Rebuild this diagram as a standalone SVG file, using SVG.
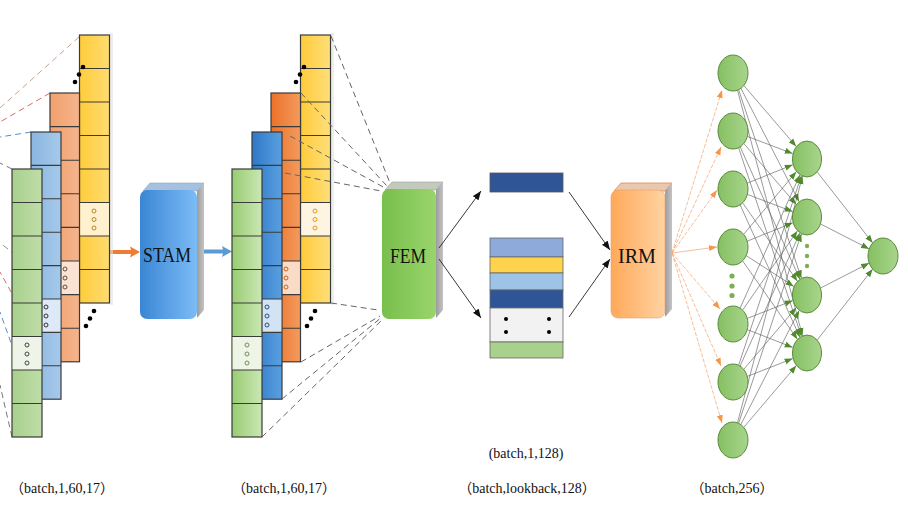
<svg xmlns="http://www.w3.org/2000/svg" width="908" height="510" viewBox="0 0 908 510">
<style>
text{font-family:"Liberation Serif","Noto Sans CJK SC",serif;fill:#111}
.lbl{font-size:14px;text-anchor:middle}
.box{font-size:20px;text-anchor:middle}
.col{stroke:#3a3a3a;stroke-width:1.2}
.sep{stroke:#3a3a3a;stroke-width:1.1;fill:none}
.sh{fill:#e2e2e2;opacity:0.6}
.dd{fill:#000}
.ring{fill:none;stroke-width:1}
.dl{fill:none;stroke-width:1;stroke-dasharray:6 4}
.nn{stroke:#555;stroke-width:0.6;fill:none;marker-end:url(#ag)}
.no{stroke:#f5a06a;stroke-width:0.7;fill:none;stroke-dasharray:4 1.5;marker-end:url(#ao)}
.nd{fill:#7fae55}
.node{fill:url(#gN);stroke:#5b8a3c;stroke-width:1}
</style>
<defs>
<linearGradient id="gYl" x1="0" x2="1"><stop offset="0" stop-color="#ffcd3c"/><stop offset="1" stop-color="#ffdc70"/></linearGradient>
<linearGradient id="gOl" x1="0" x2="1"><stop offset="0" stop-color="#f2a06e"/><stop offset="1" stop-color="#f5b48c"/></linearGradient>
<linearGradient id="gBl" x1="0" x2="1"><stop offset="0" stop-color="#8ab6e0"/><stop offset="1" stop-color="#a6c9ea"/></linearGradient>
<linearGradient id="gGl" x1="0" x2="1"><stop offset="0" stop-color="#a8d08c"/><stop offset="1" stop-color="#c0dda9"/></linearGradient>
<linearGradient id="gYm" x1="0" x2="1"><stop offset="0" stop-color="#ffcb3a"/><stop offset="1" stop-color="#ffdf7a"/></linearGradient>
<linearGradient id="gOm" x1="0" x2="1"><stop offset="0" stop-color="#ec7128"/><stop offset="1" stop-color="#f39b5e"/></linearGradient>
<linearGradient id="gBm" x1="0" x2="1"><stop offset="0" stop-color="#2f78c8"/><stop offset="1" stop-color="#5aa0e0"/></linearGradient>
<linearGradient id="gGm" x1="0" x2="1"><stop offset="0" stop-color="#98cc72"/><stop offset="1" stop-color="#cbe7b4"/></linearGradient>
<linearGradient id="gStam" x1="0" x2="1"><stop offset="0" stop-color="#3a86d4"/><stop offset="1" stop-color="#7cbcf6"/></linearGradient>
<linearGradient id="gFem" x1="0" x2="1"><stop offset="0" stop-color="#78bf4c"/><stop offset="1" stop-color="#9ad46c"/></linearGradient>
<linearGradient id="gIrm" x1="0" x2="1"><stop offset="0" stop-color="#ffa95a"/><stop offset="1" stop-color="#ffd3a2"/></linearGradient>
<linearGradient id="gSide" x1="0" x2="1"><stop offset="0" stop-color="#9c9c9c"/><stop offset="1" stop-color="#c4c4c4"/></linearGradient>
<linearGradient id="gN" x1="0" x2="1"><stop offset="0" stop-color="#86c062"/><stop offset="1" stop-color="#a8d58c"/></linearGradient>
<marker id="ag" markerUnits="userSpaceOnUse" markerWidth="9" markerHeight="7" refX="8" refY="3.5" orient="auto" viewBox="0 0 9 7"><path d="M0,0.5 L8,3.5 L0,6.5 z" fill="#4f8a2c"/></marker>
<marker id="ao" markerUnits="userSpaceOnUse" markerWidth="9" markerHeight="7" refX="8" refY="3.5" orient="auto" viewBox="0 0 9 7"><path d="M0,0.5 L8,3.5 L0,6.5 z" fill="#f79646"/></marker>
<marker id="ak" markerUnits="userSpaceOnUse" markerWidth="10" markerHeight="8" refX="9" refY="4" orient="auto" viewBox="0 0 10 8"><path d="M0,0.5 L9,4 L0,7.5 z" fill="#111"/></marker>
</defs>

<rect width="908" height="510" fill="#ffffff"/>

<!-- connectors -->
<g id="connectors">
  <line class="dl" x1="79" y1="37" x2="0" y2="108" stroke="#c9a08c"/>
  <line class="dl" x1="50" y1="93" x2="0" y2="122" stroke="#dc6a66"/>
  <line class="dl" x1="31" y1="132" x2="0" y2="137" stroke="#5b8ccc"/>
  <line class="dl" x1="12" y1="169" x2="0" y2="163" stroke="#777"/>
  <line class="dl" x1="80" y1="303" x2="0" y2="243" stroke="#a08a80"/>
  <line class="dl" x1="50" y1="362" x2="0" y2="272" stroke="#dc6a66"/>
  <line class="dl" x1="31" y1="399" x2="0" y2="312" stroke="#5b8ccc"/>
  <line class="dl" x1="12" y1="437" x2="0" y2="385" stroke="#777"/>
  <path d="M110,250 L131,250 L130,246.5 L140,252 L130,257.5 L131,254 L110,254 z" fill="#ed7d31"/>
  <path d="M202,249.5 L223,249.5 L222,246 L232,251.5 L222,257 L223,253.5 L202,253.5 z" fill="#5b9bd5"/>
</g>

<!-- left stack -->
<g id="stack-left">
  <rect class="sh" x="110" y="33" width="3" height="272"/>
  <rect class="col" x="79.5" y="35" width="30" height="268" fill="url(#gYl)"/>
  <rect x="80.1" y="202.5" width="28.8" height="33.5" fill="#fff1cf"/>
  <path class="sep" d="M79.5 68.5h30M79.5 102h30M79.5 135.5h30M79.5 169h30M79.5 202.5h30M79.5 236h30M79.5 269.5h30"/>
  <rect class="col" x="50" y="93" width="29.5" height="268.8" fill="url(#gOl)"/>
  <rect x="50.6" y="261" width="28.3" height="33.6" fill="#fbe3d3"/>
  <path class="sep" d="M50 126.6h29.5M50 160.2h29.5M50 193.8h29.5M50 227.4h29.5M50 261h29.5M50 294.6h29.5M50 328.2h29.5"/>
  <rect class="col" x="31" y="132" width="30" height="267.2" fill="url(#gBl)"/>
  <rect x="31.6" y="299" width="28.8" height="33.4" fill="#dde9f6"/>
  <path class="sep" d="M31 165.4h30M31 198.8h30M31 232.2h30M31 265.6h30M31 299h30M31 332.4h30M31 365.8h30"/>
  <rect class="col" x="12" y="169" width="30" height="268" fill="url(#gGl)"/>
  <rect x="12.6" y="336.5" width="28.8" height="33.5" fill="#eef5e8"/>
  <path class="sep" d="M12 202.5h30M12 236h30M12 269.5h30M12 303h30M12 336.5h30M12 370h30M12 403.5h30"/>
  <g class="ring" stroke="#b88a20"><circle cx="94" cy="211" r="2"/><circle cx="94" cy="219.5" r="2"/><circle cx="94" cy="228" r="2"/></g>
  <g class="ring" stroke="#6a4a38"><circle cx="65" cy="269" r="2"/><circle cx="65" cy="278" r="2"/><circle cx="65" cy="287" r="2"/></g>
  <g class="ring" stroke="#333"><circle cx="46" cy="307" r="2"/><circle cx="46" cy="316" r="2"/><circle cx="46" cy="325" r="2"/></g>
  <g class="ring" stroke="#444"><circle cx="27" cy="345" r="2"/><circle cx="27" cy="354" r="2"/><circle cx="27" cy="363" r="2"/></g>
  <g class="dd"><circle cx="83" cy="67" r="2.3"/><circle cx="79" cy="74.5" r="2.3"/><circle cx="75" cy="82" r="2.3"/>
  <circle cx="94" cy="311" r="2.3"/><circle cx="90" cy="318.5" r="2.3"/><circle cx="86" cy="326" r="2.3"/></g>
</g>

<!-- STAM -->
<g id="stam">
  <polygon points="143,191 150,183 204,183 197,191" fill="#a6c0e0" stroke="#8aa6c8" stroke-width="0.6"/>
  <polygon points="197,191 204,183 204,310 197,318" fill="url(#gSide)"/>
  <rect x="140" y="190" width="57" height="129" rx="7" fill="url(#gStam)"/>
  <text class="box" x="167" y="262" textLength="48" lengthAdjust="spacingAndGlyphs">STAM</text>
</g>

<!-- middle stack -->
<g id="stack-mid" transform="translate(221,0)">
  <rect class="sh" x="110" y="33" width="3" height="272"/>
  <rect class="col" x="79.5" y="35" width="30" height="268" fill="url(#gYm)"/>
  <rect x="80.1" y="202.5" width="28.8" height="33.5" fill="#fdf5e2"/>
  <path class="sep" d="M79.5 68.5h30M79.5 102h30M79.5 135.5h30M79.5 169h30M79.5 202.5h30M79.5 236h30M79.5 269.5h30"/>
  <rect class="col" x="50" y="93" width="29.5" height="268.8" fill="url(#gOm)"/>
  <rect x="50.6" y="261" width="28.3" height="33.6" fill="#f9dcc8"/>
  <path class="sep" d="M50 126.6h29.5M50 160.2h29.5M50 193.8h29.5M50 227.4h29.5M50 261h29.5M50 294.6h29.5M50 328.2h29.5"/>
  <rect class="col" x="31" y="132" width="30" height="267.2" fill="url(#gBm)"/>
  <rect x="31.6" y="299" width="28.8" height="33.4" fill="#d2e3f4"/>
  <path class="sep" d="M31 165.4h30M31 198.8h30M31 232.2h30M31 265.6h30M31 299h30M31 332.4h30M31 365.8h30"/>
  <rect class="col" x="11" y="169" width="30" height="268" fill="url(#gGm)"/>
  <rect x="11.6" y="336.5" width="28.8" height="33.5" fill="#eef4e6"/>
  <path class="sep" d="M11 202.5h30M11 236h30M11 269.5h30M11 303h30M11 336.5h30M11 370h30M11 403.5h30"/>
  <g class="ring" stroke="#e89a18"><circle cx="94" cy="211" r="2"/><circle cx="94" cy="219.5" r="2"/><circle cx="94" cy="228" r="2"/></g>
  <g class="ring" stroke="#d2601e"><circle cx="65" cy="269" r="2"/><circle cx="65" cy="278" r="2"/><circle cx="65" cy="287" r="2"/></g>
  <g class="ring" stroke="#2f4f80"><circle cx="46" cy="307" r="2"/><circle cx="46" cy="316" r="2"/><circle cx="46" cy="325" r="2"/></g>
  <g class="ring" stroke="#7a8a60"><circle cx="26" cy="345" r="2"/><circle cx="26" cy="354" r="2"/><circle cx="26" cy="363" r="2"/></g>
  <g class="dd"><circle cx="83" cy="67" r="2.3"/><circle cx="79" cy="74.5" r="2.3"/><circle cx="75" cy="82" r="2.3"/>
  <circle cx="94" cy="311" r="2.3"/><circle cx="90" cy="318.5" r="2.3"/><circle cx="86" cy="326" r="2.3"/></g>
</g>

<!-- dashed lines stack -> FEM -->
<g id="connectors-fem" stroke="#666">
  <line class="dl" x1="331" y1="36" x2="390" y2="183"/>
  <line class="dl" x1="301" y1="93" x2="387" y2="186"/>
  <line class="dl" x1="290" y1="136" x2="385" y2="188"/>
  <line class="dl" x1="285" y1="173" x2="381" y2="191"/>
  <line class="dl" x1="331" y1="303" x2="378" y2="310"/>
  <line class="dl" x1="301" y1="362" x2="380" y2="316"/>
  <line class="dl" x1="282" y1="399" x2="382" y2="317"/>
  <line class="dl" x1="262" y1="437" x2="383" y2="319"/>
</g>

<!-- FEM -->
<g id="fem">
  <polygon points="385,190 392,182 443,182 436,190" fill="#c3c9bd" stroke="#9aa394" stroke-width="0.6"/>
  <polygon points="436,190 443,182 443,310 436,318" fill="url(#gSide)"/>
  <rect x="382" y="189" width="54" height="130" rx="7" fill="url(#gFem)"/>
  <text class="box" x="408" y="263" textLength="36" lengthAdjust="spacingAndGlyphs">FEM</text>
</g>

<!-- FEM / IRM arrows -->
<g id="connectors-mid" stroke="#222" stroke-width="0.9" fill="none">
  <line x1="439" y1="248" x2="481" y2="191" marker-end="url(#ak)"/>
  <line x1="439" y1="259" x2="481" y2="318" marker-end="url(#ak)"/>
  <line x1="569" y1="192" x2="610" y2="250" marker-end="url(#ak)"/>
  <line x1="569" y1="317" x2="610" y2="259" marker-end="url(#ak)"/>
</g>

<!-- vector (batch,1,128) -->
<g id="vec">
  <rect x="490" y="173" width="73" height="19" fill="#2f5597" stroke="#555" stroke-width="0.8"/>
</g>

<!-- sequence (batch,lookback,128) -->
<g id="seq" stroke="#666" stroke-width="0.8">
  <rect x="490" y="238" width="73" height="19" fill="#8eaadb"/>
  <rect x="490" y="257" width="73" height="16" fill="#ffd34e"/>
  <rect x="490" y="273" width="73" height="17" fill="#9dc3e6"/>
  <rect x="490" y="290" width="73" height="18" fill="#2f5597"/>
  <rect x="490" y="308" width="73" height="34" fill="#f2f2f2"/>
  <rect x="490" y="342" width="73" height="16" fill="#a9d18e"/>
  <g fill="#000" stroke="none"><circle cx="506" cy="319" r="2"/><circle cx="549" cy="319" r="2"/><circle cx="506" cy="332" r="2"/><circle cx="549" cy="332" r="2"/></g>
</g>

<!-- IRM -->
<g id="irm">
  <polygon points="614,191 621,183 672,183 665,191" fill="#e8c8ae" stroke="#e08a50" stroke-width="0.8"/>
  <polygon points="665,191 672,183 672,309 665,317" fill="url(#gSide)"/>
  <rect x="611" y="190" width="54" height="128" rx="7" fill="url(#gIrm)" stroke="#e8a070" stroke-width="0.6"/>
  <text class="box" x="637" y="263" textLength="38" lengthAdjust="spacingAndGlyphs">IRM</text>
</g>

<!-- network connectors -->
<g id="connectors-net">
  <line class="no" x1="672" y1="253" x2="722" y2="90"/>
  <line class="no" x1="672" y1="253" x2="721" y2="147"/>
  <line class="no" x1="672" y1="253" x2="717" y2="190"/>
  <line class="no" x1="672" y1="253" x2="717" y2="247" style="stroke-dasharray:none"/>
  <line class="no" x1="672" y1="253" x2="720" y2="309"/>
  <line class="no" x1="672" y1="253" x2="721" y2="366"/>
  <line class="no" x1="672" y1="253" x2="722" y2="423"/>

  <line class="nn" x1="743.8" y1="85.5" x2="796.2" y2="146.5"/>
  <line class="nn" x1="740.9" y1="88.3" x2="799.1" y2="201.7"/>
  <line class="nn" x1="738.6" y1="89.7" x2="801.4" y2="278.3"/>
  <line class="nn" x1="737.5" y1="90.2" x2="802.5" y2="335.8"/>
  <line class="nn" x1="747.3" y1="136.4" x2="792.7" y2="153.6"/>
  <line class="nn" x1="743.8" y1="143.5" x2="796.2" y2="204.5"/>
  <line class="nn" x1="740.1" y1="146.8" x2="799.9" y2="279.2"/>
  <line class="nn" x1="738.6" y1="147.7" x2="801.4" y2="336.3"/>
  <line class="nn" x1="747.2" y1="183.2" x2="792.8" y2="164.8"/>
  <line class="nn" x1="747.3" y1="194.4" x2="792.7" y2="211.6"/>
  <line class="nn" x1="742.6" y1="202.8" x2="797.4" y2="281.2"/>
  <line class="nn" x1="740.1" y1="204.8" x2="799.9" y2="337.2"/>
  <line class="nn" x1="743.7" y1="234.3" x2="796.3" y2="171.7"/>
  <line class="nn" x1="747.2" y1="241.2" x2="792.8" y2="222.8"/>
  <line class="nn" x1="746.2" y1="255.6" x2="793.8" y2="286.4"/>
  <line class="nn" x1="742.6" y1="260.8" x2="797.4" y2="339.2"/>
  <line class="nn" x1="740.1" y1="308.1" x2="799.9" y2="174.9"/>
  <line class="nn" x1="742.6" y1="310.1" x2="797.4" y2="230.9"/>
  <line class="nn" x1="747.3" y1="318.4" x2="792.7" y2="300.6"/>
  <line class="nn" x1="747.3" y1="329.6" x2="792.7" y2="347.4"/>
  <line class="nn" x1="738.6" y1="365.3" x2="801.4" y2="175.7"/>
  <line class="nn" x1="740.1" y1="366.1" x2="799.9" y2="232.9"/>
  <line class="nn" x1="743.7" y1="369.4" x2="796.3" y2="307.6"/>
  <line class="nn" x1="747.3" y1="376.4" x2="792.7" y2="358.6"/>
  <line class="nn" x1="737.5" y1="422.8" x2="802.5" y2="176.2"/>
  <line class="nn" x1="738.6" y1="423.3" x2="801.4" y2="233.7"/>
  <line class="nn" x1="740.8" y1="424.6" x2="799.2" y2="310.4"/>
  <line class="nn" x1="743.7" y1="427.4" x2="796.3" y2="365.6"/>

  <line class="nn" x1="817.3" y1="172.1" x2="872.7" y2="242.9"/>
  <line class="nn" x1="820.8" y1="224.1" x2="869.2" y2="248.9"/>
  <line class="nn" x1="820.8" y1="287.9" x2="869.2" y2="263.1"/>
  <line class="nn" x1="817.3" y1="339.9" x2="872.7" y2="269.1"/>
</g>

<!-- network nodes -->
<g id="layer-in">
  <ellipse class="node" cx="733" cy="73" rx="15" ry="18"/>
  <ellipse class="node" cx="733" cy="131" rx="15" ry="18"/>
  <ellipse class="node" cx="733" cy="189" rx="15" ry="18"/>
  <ellipse class="node" cx="733" cy="247" rx="15" ry="18"/>
  <ellipse class="node" cx="733" cy="324" rx="15" ry="18"/>
  <ellipse class="node" cx="733" cy="382" rx="15" ry="18"/>
  <ellipse class="node" cx="733" cy="440" rx="15" ry="18"/>
  <circle class="nd" cx="732" cy="276" r="2.6"/><circle class="nd" cx="732" cy="286" r="2.6"/><circle class="nd" cx="732" cy="295.5" r="2.6"/>
</g>
<g id="layer-hidden">
  <ellipse class="node" cx="807" cy="159" rx="14.5" ry="18"/>
  <ellipse class="node" cx="807" cy="217" rx="14.5" ry="18"/>
  <ellipse class="node" cx="807" cy="295" rx="14.5" ry="18"/>
  <ellipse class="node" cx="807" cy="353" rx="14.5" ry="18"/>
  <circle class="nd" cx="807" cy="246" r="2.2"/><circle class="nd" cx="807" cy="256" r="2.2"/><circle class="nd" cx="807" cy="266" r="2.2"/>
</g>
<g id="layer-out">
  <ellipse class="node" cx="883" cy="256" rx="15" ry="18"/>
</g>

<!-- labels -->
<g id="labels">
  <text class="lbl" x="526" y="458">(batch,1,128)</text>
  <text class="lbl" x="62" y="493">（batch,1,60,17）</text>
  <text class="lbl" x="284" y="493">（batch,1,60,17）</text>
  <text class="lbl" x="527" y="493">（batch,lookback,128）</text>
  <text class="lbl" x="732" y="493">（batch,256）</text>
</g>
</svg>
